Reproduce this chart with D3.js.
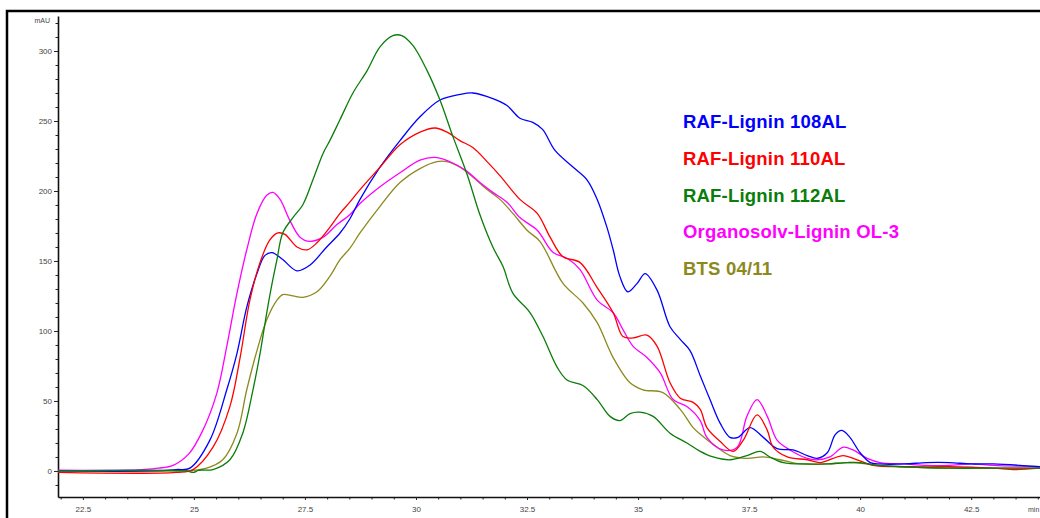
<!DOCTYPE html>
<html>
<head>
<meta charset="utf-8">
<script src="https://cdn.jsdelivr.net/npm/d3@7"></script>
<style>
  html, body { margin: 0; padding: 0; background: #fff; }
  svg { display: block; }
</style>
</head>
<body>
<svg id="chart" width="1040" height="518"></svg>
<script>
// ---------- DATA (retention time in min, absorbance in mAU) ----------
const seriesNames = ["RAF-Lignin 108AL", "RAF-Lignin 110AL", "RAF-Lignin 112AL", "Organosolv-Lignin OL-3", "BTS 04/11"];
const seriesColors = ["#0000ff", "#ff0000", "#0a7d0a", "#ff00ff", "#8c8a1e"];

const t108 = [21.94,24.0,24.6,24.91,25.36,25.74,25.97,26.19,26.42,26.6,26.76,27.0,27.32,27.61,27.99,28.29,28.51,28.74,29.19,29.64,30.09,30.54,30.99,31.28,31.73,32.05,32.34,32.63,32.85,33.13,33.54,33.85,34.08,34.3,34.44,34.59,34.77,34.98,35.16,35.43,35.72,35.95,36.17,36.4,36.62,36.85,37.07,37.25,37.52,37.82,38.13,38.49,38.81,39.03,39.26,39.44,39.59,39.77,40.0,40.23,40.45,41.0,41.5,42.0,42.5,43.0,44.05];
const v108 = [0,0,1,2,22,58,84,117,141,154,156,151,143,147,160,170,180,194,217,236,253,265,269,270,266,261,252,249,244,229,217,208,194,174,158,139,128,134,141,129,103,94,86,68,51,34,24,24,31,24,16,15,11,9,13,26,29,24,13,6,5,5,6,6,5,5,3];

const t110 = [21.94,24.6,24.98,25.43,25.81,26.04,26.26,26.49,26.71,26.89,27.05,27.32,27.55,27.77,28.06,28.29,28.51,28.74,29.19,29.64,30.09,30.43,30.7,30.99,31.28,31.6,31.89,32.34,32.73,33.02,33.31,33.69,34.08,34.44,34.66,34.89,35.2,35.43,35.72,35.95,36.24,36.4,36.55,36.85,37.14,37.37,37.68,37.91,38.04,38.36,38.81,39.1,39.39,39.62,39.93,40.29,41.0,42.0,43.0,43.5,44.05];
const v110 = [-1,-1,1,17,46,81,122,149,165,170,169,160,158,163,174,184,192,201,217,233,242,245,242,236,231,221,211,194,184,167,153,149,131,113,96,95,97,89,63,52,49,44,31,21,14,22,40,29,17,10,8,6,9,11,8,4,3,3,2,1,2];

const t112 = [21.94,24.8,25.0,25.1,25.43,25.81,26.1,26.33,26.49,26.64,26.76,26.87,27.0,27.23,27.45,27.68,27.91,28.06,28.29,28.58,28.9,29.19,29.48,29.68,29.93,30.25,30.54,30.83,31.15,31.44,31.73,31.96,32.18,32.57,32.86,33.18,33.4,33.76,34.08,34.37,34.59,34.82,35.04,35.34,35.72,36.1,36.4,36.69,37.07,37.45,37.75,37.97,38.27,38.81,39.26,39.71,40.0,40.38,41.0,42.0,43.0,44.05];
const v112 = [0,0,-1,0.5,1,8,27,58,84,113,134,151,170,181,190,208,227,236,251,270,286,303,311,311,304,286,265,239,212,183,160,146,127,113,96,74,65,61,51,39,36,41,42,39,27,20,14,10,8,11,14,10,6,5,5,6,6,4,3,2,2,2];

const tOL3 = [21.94,23.5,23.83,24.2,24.53,24.88,25.2,25.52,25.74,25.97,26.19,26.42,26.64,26.78,26.94,27.16,27.39,27.61,27.91,28.22,28.51,28.74,29.19,29.64,30.09,30.43,30.83,31.15,31.44,31.73,32.05,32.34,32.73,33.09,33.4,33.69,34.08,34.44,34.66,34.89,35.2,35.5,35.79,36.1,36.4,36.55,36.91,37.23,37.45,37.68,37.91,38.13,38.42,38.81,39.03,39.32,39.62,39.84,40.16,40.45,41.0,41.5,42.0,42.5,43.0,44.05];
const vOL3 = [0.5,0.5,1,2,4,12,29,56,89,127,158,184,197,199,194,179,167,164,167,176,183,191,203,213,222,224,220,214,206,199,192,181,172,156,152,144,122,113,101,89,81,70,51,46,36,24,15,17,39,51,39,22,15,9,8,10,17,15,9,6,5,4,4,5,4,3];

const tBTS = [21.94,24.5,25.0,25.29,25.65,25.97,26.19,26.42,26.64,26.87,27.0,27.23,27.45,27.77,28.06,28.29,28.51,28.74,29.19,29.64,30.09,30.47,30.7,30.99,31.28,31.6,31.89,32.18,32.5,32.79,33.31,33.76,34.08,34.44,34.82,35.11,35.56,35.95,36.24,36.45,36.69,37.07,37.45,37.82,38.2,38.65,39.26,39.71,40.16,40.45,41.0,42.0,43.0,44.05];
const vBTS = [0,0,0.5,2,8,27,58,86,108,122,126,125,124,128,139,151,159,170,189,206,216,221,221,217,210,201,194,184,172,164,134,120,106,81,63,58,56,44,31,25,19,11,9,10,8,5,5,6,5,4,3,2,2,2];

const seriesT = [t108, t110, t112, tOL3, tBTS];
const seriesV = [v108, v110, v112, vOL3, vBTS];

const yMajorTicks = [0, 50, 100, 150, 200, 250, 300];
const xMajorTicks = [22.5, 25, 27.5, 30, 32.5, 35, 37.5, 40, 42.5];
const xTickLabels = ["22.5", "25", "27.5", "30", "32.5", "35", "37.5", "40", "42.5"];
const yUnit = "mAU";
const xUnit = "min";

// ---------- LAYOUT ----------
const svg = d3.select("#chart");
const pLeft = 58, pRight = 1040, pTop = 16, pBottom = 497;

const x = d3.scaleLinear().domain([21.94, 44.05]).range([pLeft, pRight]);
const y = d3.scaleLinear().domain([-18.6, 325]).range([pBottom, pTop]);

// outer frame
svg.append("rect")
  .attr("x", 7).attr("y", 11)
  .attr("width", 1100).attr("height", 600)
  .attr("fill", "none").attr("stroke", "#000").attr("stroke-width", 2.5);

svg.append("defs").append("clipPath").attr("id", "plotclip")
  .append("rect").attr("x", pLeft).attr("y", pTop).attr("width", pRight - pLeft).attr("height", pBottom - pTop);

// minor ticks
const yMinor = d3.range(-10, 321, 10).filter(v => v % 50 !== 0);
const xMinor = d3.range(22, 44.01, 0.5).filter(v => Math.abs((v / 2.5) - Math.round(v / 2.5)) > 1e-6);

const gy = svg.append("g").attr("transform", `translate(${pLeft},0)`);
gy.call(d3.axisLeft(y).tickValues(yMinor).tickSize(2.5).tickSizeOuter(0).tickFormat(""));
gy.call(g => g.select(".domain").remove());
const gy2 = svg.append("g").attr("transform", `translate(${pLeft},0)`);
gy2.call(d3.axisLeft(y).tickValues(yMajorTicks).tickSize(4).tickPadding(2).tickSizeOuter(0).tickFormat(d3.format("d")));

const gx = svg.append("g").attr("transform", `translate(0,${pBottom})`);
gx.call(d3.axisBottom(x).tickValues(xMinor).tickSize(2.5).tickSizeOuter(0).tickFormat(""));
gx.call(g => g.select(".domain").remove());
const gx2 = svg.append("g").attr("transform", `translate(0,${pBottom})`);
gx2.call(d3.axisBottom(x).tickValues(xMajorTicks).tickSize(3).tickPadding(6).tickSizeOuter(0)
  .tickFormat((d, i) => xTickLabels[i]));

svg.selectAll(".domain").attr("stroke", "#111").attr("stroke-width", 1.6);
svg.selectAll(".tick line").attr("stroke", "#222").attr("stroke-width", 1);
svg.selectAll(".tick text").attr("font-family", "Liberation Sans, Arial, sans-serif")
  .attr("font-size", 8).attr("fill", "#444");

svg.append("text").attr("x", 50).attr("y", 23).attr("text-anchor", "end")
  .attr("font-family", "Liberation Sans, Arial, sans-serif").attr("font-size", 7).attr("fill", "#444").text(yUnit);
svg.append("text").attr("x", 1028).attr("y", 512)
  .attr("font-family", "Liberation Sans, Arial, sans-serif").attr("font-size", 7).attr("fill", "#444").text(xUnit);

// lines
const line = d3.line().curve(d3.curveCatmullRom.alpha(0.5))
  .x(d => x(d[0])).y(d => y(d[1]));

const plot = svg.append("g").attr("clip-path", "url(#plotclip)");
const order = [4, 3, 0, 1, 2];
order.forEach(i => {
  const pts = seriesT[i].map((t, k) => [t, seriesV[i][k]]);
  plot.append("path").datum(pts)
    .attr("d", line)
    .attr("fill", "none")
    .attr("stroke", seriesColors[i])
    .attr("stroke-width", 1.3);
});

// legend
const legend = svg.append("g");
seriesNames.forEach((name, i) => {
  legend.append("text")
    .attr("x", 683).attr("y", 128 + i * 36.8)
    .attr("font-family", "Liberation Sans, Arial, sans-serif")
    .attr("font-weight", "bold").attr("font-size", 18.5)
    .attr("letter-spacing", 0.2)
    .attr("fill", seriesColors[i])
    .text(name);
});
</script>
</body>
</html>
